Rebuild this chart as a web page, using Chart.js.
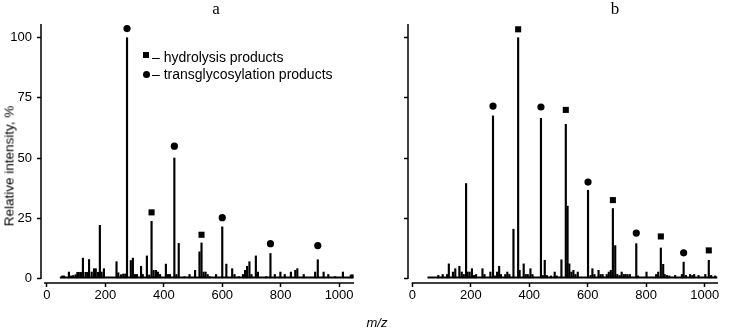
<!DOCTYPE html>
<html>
<head>
<meta charset="utf-8">
<script src="https://cdn.jsdelivr.net/npm/chart.js@4.4.1/dist/chart.umd.min.js"></script>
<style>
  body { margin: 0; background: #fff; }
  #wrap { position: relative; width: 744px; height: 329px; font-family: "Liberation Sans", Arial, sans-serif; color: #000; }
  #wrap canvas { position: absolute; top: 0; }
  .txt { position: absolute; white-space: nowrap; transform: translate(-50%, -50%); }
  .panel { font-family: "Liberation Serif", "Times New Roman", serif; font-size: 17px; }
  .legend { position: absolute; left: 143px; font-size: 14px; line-height: 17px; }
  .legend .row { position: relative; padding-left: 9px; }
  .legend .sq { position: absolute; left: 0; top: 3px; width: 6px; height: 6px; background: #000; }
  .legend .dot { position: absolute; left: 0; top: 5px; width: 7px; height: 7px; border-radius: 50%; background: #000; }
</style>
</head>
<body>
<div id="wrap">
  <canvas id="chartA" width="372" height="329" style="left:0"></canvas>
  <canvas id="chartB" width="372" height="329" style="left:372px"></canvas>
  <div class="txt panel" style="left:216px;top:9px">a</div>
  <div class="txt panel" style="left:615px;top:9px">b</div>
  <div class="txt" style="left:9px;top:166px;font-size:13.5px;transform:translate(-50%,-50%) rotate(-90deg)">Relative intensity, %</div>
  <div class="txt" style="left:377px;top:322px;font-size:13px;font-style:italic">m/z</div>
  <div class="legend" style="top:49px">
    <div class="row"><span class="sq"></span>– hydrolysis products</div>
    <div class="row"><span class="dot"></span>– transglycosylation products</div>
  </div>
</div>
<script>
// ---------- Data ----------
const xTicks = [0, 200, 400, 600, 800, 1000];
const yTicks = [0, 25, 50, 75, 100];

// spectrum a
const aPeakMz = [52, 58, 75, 83, 90, 98, 104, 109, 116, 123, 132, 138, 144, 153, 161, 167, 175, 181, 187, 195,
  238, 244, 253, 261, 268, 274, 287, 294, 301, 308, 322, 328, 342, 350, 358, 365, 373, 380, 387, 407, 414, 421,
  436, 443, 451, 471, 488, 507, 522, 529, 536, 543, 550, 557, 579, 600, 614, 634, 642, 657, 671, 678, 685, 693,
  700, 715, 722, 751, 765, 780, 799, 814, 835, 850, 857, 879, 918, 927, 947, 963, 986, 1013, 1040, 1046];
const aPeakInt = [1, 1, 2.6, 1, 1.2, 1.5, 2.5, 2.5, 2.5, 8.4, 2.5, 2.5, 7.8, 2.6, 4, 4, 2.5, 22, 2.6, 4,
  6.9, 2.3, 1.5, 1.8, 1.8, 100, 7.4, 8.4, 1.6, 1.6, 5, 1.6, 9.3, 1.4, 23.7, 3.3, 3.3, 2.6, 1.6, 5.9, 1.6, 1.6,
  50, 1.6, 14.5, 0.7, 1.6, 3.3, 11, 14.7, 2.6, 2.6, 1.6, 0.7, 1.6, 21.4, 5.9, 4, 1.6, 0.7, 1.6, 3.3, 5, 6.9,
  1.6, 9.3, 2.6, 0.7, 10.3, 1.6, 2.6, 1.6, 2.6, 3.3, 4, 1.6, 2.6, 7.7, 2.6, 1.6, 0.7, 2.6, 1.4, 1.5];
const aBaseline = [44, 1049];
const aHydroMz = [358, 529];
const aHydroY = [27.4, 18.1];
const aTransMz = [274, 436, 600, 765, 927];
const aTransY = [103.8, 54.9, 25.2, 14.4, 13.6];

// spectrum b
const bPeakMz = [89, 104, 119, 125, 139, 147, 161, 169, 176, 184, 189, 196, 204, 211, 218, 240, 247, 267, 276,
  283, 290, 297, 303, 318, 325, 332, 346, 362, 367, 381, 388, 395, 404, 411, 440, 446, 453, 460, 474, 487, 494,
  510, 525, 531, 537, 544, 551, 558, 566, 601, 610, 616, 623, 637, 644, 651, 665, 672, 679, 686, 694, 701, 709,
  716, 723, 729, 736, 744, 766, 772, 801, 834, 841, 850, 858, 863, 871, 879, 899, 922, 928, 936, 950, 958, 964,
  979, 1002, 1014, 1022, 1036];
const bPeakInt = [1.2, 1.6, 1.6, 6, 2.6, 4, 5, 2.6, 1.6, 39.4, 2.6, 2.6, 4, 1.2, 1.6, 4, 1.6, 2.6, 67.5,
  1, 2.6, 5, 1.6, 1.6, 2.6, 1.6, 20.4, 100, 3.3, 6, 1.6, 1.6, 4, 1.6, 66.5, 1.2, 7.5, 1.2, 1, 2.6, 1,
  7.7, 64, 30, 6, 2.6, 3.3, 1.6, 2.6, 36.6, 1.2, 4, 1.6, 3.3, 1.6, 1.6, 1.6, 2.6, 3.3, 29, 13.6, 1.6, 1.2,
  2.6, 1.6, 1.6, 1.6, 1.6, 14.4, 1, 2.6, 1.6, 2.6, 12.6, 5.8, 1.6, 1.2, 1, 1.2, 1.6, 6.7, 1.2, 1.6, 1.2, 1.6,
  1.2, 1.6, 7.5, 1.2, 1];
const bBaseline = [52, 1043];
const bHydroMz = [362, 525, 686, 850, 1014];
const bHydroY = [103.5, 70, 32.5, 17.4, 11.6];
const bTransMz = [276, 440, 601, 766, 928];
const bTransY = [71.6, 71.2, 40, 18.8, 10.6];

// ---------- Helpers ----------
const FONT = "'Liberation Sans', Arial, sans-serif";
const pts = (xs, ys) => xs.map((x, i) => ({ x, y: ys[i] }));

// R-style axes: the y line starts at zero and the x line starts just left of zero
const detachedAxes = {
  id: "detachedAxes",
  afterDraw(chart, args, opts) {
    const { ctx, chartArea, scales } = chart;
    ctx.save();
    ctx.strokeStyle = "#000";
    ctx.lineWidth = 1.5;
    ctx.beginPath();
    ctx.moveTo(chartArea.left, scales.y.getPixelForValue(0) + 0.8);
    ctx.lineTo(chartArea.left, chartArea.top);
    ctx.moveTo(scales.x.getPixelForValue(opts.xStart), chartArea.bottom);
    ctx.lineTo(chartArea.right, chartArea.bottom);
    ctx.stroke();
    ctx.restore();
  },
};

function buildChart(id, o) {
  return new Chart(document.getElementById(id), {
    type: "bar",
    data: {
      datasets: [
        {
          type: "scatter",
          data: pts(o.transMz, o.transY),
          pointStyle: "circle",
          pointRadius: 3.6,
          backgroundColor: "#000",
          borderWidth: 0,
          clip: false,
        },
        {
          type: "scatter",
          data: pts(o.hydroMz, o.hydroY),
          pointStyle: "rect",
          pointRadius: 4.3,
          backgroundColor: "#000",
          borderWidth: 0,
          clip: false,
        },
        {
          data: pts(o.peakMz, o.peakInt),
          backgroundColor: "#000",
          barThickness: 1.5,
          grouped: false,
        },
        {
          type: "line",
          data: pts(o.baseline, [0.3, 0.3]),
          borderColor: "#000",
          borderWidth: 2,
          pointRadius: 0,
        },
      ],
    },
    options: {
      responsive: false,
      animation: false,
      layout: { padding: { top: 24, right: o.padRight, bottom: 0, left: 0 } },
      plugins: {
        legend: { display: false },
        tooltip: { enabled: false },
        detachedAxes: { xStart: o.xStart },
      },
      scales: {
        x: {
          type: "linear",
          min: o.xMin,
          max: o.xMax,
          offset: false,
          afterBuildTicks: (s) => { s.ticks = xTicks.map((v) => ({ value: v })); },
          afterFit: (s) => { s.height = 46; },
          grid: { drawOnChartArea: false, offset: false, tickLength: 4, tickWidth: 1.5, tickColor: "#000" },
          border: { display: false },
          ticks: {
            color: "#000", font: { family: FONT, size: 13 }, padding: 1, maxRotation: 0, autoSkip: false,
            callback: (v) => String(v),
          },
        },
        y: {
          min: -1.95,
          max: 105.7,
          afterBuildTicks: (s) => { s.ticks = yTicks.map((v) => ({ value: v })); },
          afterFit: (s) => { s.width = o.yWidth; },
          grid: { drawOnChartArea: false, tickLength: 4, tickWidth: 1.5, tickColor: "#000" },
          border: { display: false },
          ticks: { display: o.yLabels, color: "#000", font: { family: FONT, size: 13 }, padding: 5 },
        },
      },
    },
    plugins: [detachedAxes],
  });
}

buildChart("chartA", {
  peakMz: aPeakMz, peakInt: aPeakInt, baseline: aBaseline,
  hydroMz: aHydroMz, hydroY: aHydroY, transMz: aTransMz, transY: aTransY,
  xMin: -20.5, xMax: 1051, xStart: -10, yWidth: 41, padRight: 18, yLabels: true,
});

buildChart("chartB", {
  peakMz: bPeakMz, peakInt: bPeakInt, baseline: bBaseline,
  hydroMz: bHydroMz, hydroY: bHydroY, transMz: bTransMz, transY: bTransY,
  xMin: -14.7, xMax: 1045.5, xStart: -2, yWidth: 36, padRight: 26, yLabels: false,
});
</script>
</body>
</html>
